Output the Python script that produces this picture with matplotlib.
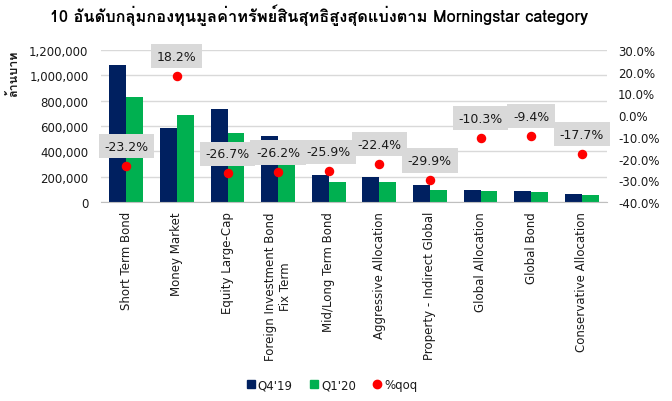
import matplotlib
matplotlib.use("Agg")
import matplotlib.pyplot as plt
from matplotlib.lines import Line2D
from matplotlib.ticker import FuncFormatter, MultipleLocator

categories = ["Short Term Bond", "Money Market", "Equity Large-Cap",
              "Foreign Investment Bond\nFix Term", "Mid/Long Term Bond",
              "Aggressive Allocation", "Property - Indirect Global",
              "Global Allocation", "Global Bond", "Conservative Allocation"]
q4_19 = [1080000, 584000, 737000, 523000, 216000, 200000, 134000, 97000, 84000, 66000]
q1_20 = [831000, 689000, 542000, 386000, 160000, 155000, 94000, 87000, 76000, 54000]
pct_qoq = [-23.2, 18.2, -26.7, -26.2, -25.9, -22.4, -29.9, -10.3, -9.4, -17.7]
legend_labels = ["Q4'19", "Q1'20", "%qoq"]
title = "10 อันดับกลุ่มกองทุนมูลค่าทรัพย์สินสุทธิสูงสุดแบ่งตาม Morningstar category"
ylabel = "ล้านบาท"

fam = ["Loma", "Noto Sans Thai", "DejaVu Sans"]

navy = "#002060"
green = "#00B050"
red = "#FF0000"
txt = "#1a1a1a"

fig = plt.figure(figsize=(6.72, 4.02), dpi=100)
ax = fig.add_axes([101/672, 1-203/402, (607-101)/672, (203-51)/402])
x = list(range(len(categories)))
w = 0.335
ax.bar([i - w/2 for i in x], q4_19, width=w, color=navy, zorder=2)
ax.bar([i + w/2 for i in x], q1_20, width=w, color=green, zorder=2)
ax.set_xlim(-0.5, len(categories) - 0.5)
ax.set_ylim(0, 1200000)
ax.yaxis.set_major_locator(MultipleLocator(200000))
ax.yaxis.set_major_formatter(FuncFormatter(lambda v, p: f"{int(v):,}"))
ax.grid(axis="y", color="#d9d9d9", linewidth=1, zorder=0)
ax.set_axisbelow(True)
for s in ["top", "right", "left"]:
    ax.spines[s].set_visible(False)
ax.spines["bottom"].set_color("#bfbfbf")
ax.tick_params(axis="y", length=0, pad=9, labelsize=8.5, labelcolor=txt)
ax.set_xticks(x)
ax.set_xticklabels(categories, rotation=90, fontsize=8.5, color=txt,
                   ha="center", va="top", multialignment="center")
ax.tick_params(axis="x", length=0, pad=6.5)

ax2 = ax.twinx()
ax2.set_ylim(-40, 30)
ax2.yaxis.set_major_locator(MultipleLocator(10))
ax2.yaxis.set_major_formatter(FuncFormatter(lambda v, p: f"{v:.1f}%"))
ax2.tick_params(axis="y", length=0, pad=8, labelsize=8.5, labelcolor=txt)
for s in ax2.spines.values():
    s.set_visible(False)
ax2.scatter(x, pct_qoq, s=34, color=red, zorder=4)
for xi, v in zip(x, pct_qoq):
    ax2.annotate(f"{v:.1f}%", (xi, v), xytext=(0, 14), textcoords="offset points",
                 ha="center", va="center", fontsize=9, color=txt, zorder=5,
                 bbox=dict(boxstyle="square,pad=0.45", fc="#d9d9d9", ec="none"))

fig.text(319/672, 1-15/402, title, ha="center", va="center", fontsize=11.8,
         fontweight="bold", family=fam, color="black")
fig.text(14/672, 1-74/402, ylabel, ha="center", va="center", rotation=90,
         fontsize=9, fontweight="bold", family=fam, color=txt)

handles = [Line2D([], [], marker="s", ls="none", color=navy, markersize=6),
           Line2D([], [], marker="s", ls="none", color=green, markersize=6),
           Line2D([], [], marker="o", ls="none", color=red, markersize=6)]
fig.legend(handles, legend_labels, loc="center", bbox_to_anchor=(331/672, 1-386/402),
           ncol=3, frameon=False, fontsize=8.5, handletextpad=0.1, columnspacing=1.3,
           handlelength=1.0, labelcolor=txt)

fig.savefig("out.png", dpi=100)
